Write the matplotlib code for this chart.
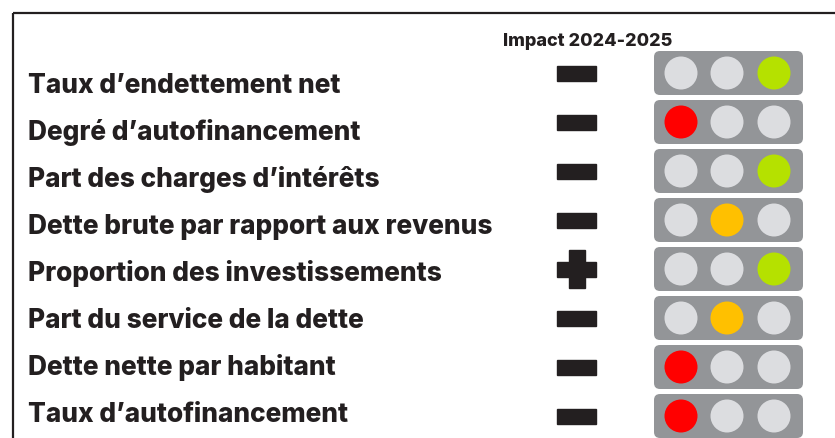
import matplotlib.pyplot as plt
from matplotlib.patches import FancyBboxPatch, Circle, Rectangle

plt.rcParams['font.family'] = ['Inter', 'DejaVu Sans']

# --- data ---
indicators = [
    "Taux d’endettement net",
    "Degré d’autofinancement",
    "Part des charges d’intérêts",
    "Dette brute par rapport aux revenus",
    "Proportion des investissements",
    "Part du service de la dette",
    "Dette nette par habitant",
    "Taux d’autofinancement",
]
impact = ["-", "-", "-", "-", "+", "-", "-", "-"]
# which light is on: 0 = red (left), 1 = yellow (middle), 2 = green (right)
status = [2, 0, 2, 1, 2, 1, 0, 0]
header = "Impact 2024-2025"

dark = "#231f20"
box_grey = "#939598"
off_grey = "#dcdde0"
on_colors = {0: "#ff0000", 1: "#ffc000", 2: "#b5e100"}

W, H = 835, 438
fig = plt.figure(figsize=(W / 100, H / 100), dpi=100)
ax = fig.add_axes([0, 0, 1, 1])
ax.set_xlim(0, W)
ax.set_ylim(H, 0)
ax.set_aspect("equal")
ax.axis("off")

# frame (top and left)
ax.plot([12.5, W], [12.5, 12.5], color=dark, lw=1.6, solid_capstyle="butt")
ax.plot([12.5, 12.5], [12.5, H], color=dark, lw=1.6, solid_capstyle="butt")

ax.text(588, 46, header, ha="center", va="baseline", fontsize=13,
        fontweight="heavy", color=dark)

# labels are laid out a bit tighter than the lights
for i, name in enumerate(indicators):
    ax.text(28, 93 + i * 47, name, ha="left", va="baseline", fontsize=18.9,
            fontweight="heavy", color=dark)

y0, step = 73, 49
for i, (sign, st) in enumerate(zip(impact, status)):
    yc = y0 + i * step

    # impact sign
    ax.add_patch(Rectangle((557, yc - 7.5), 39, 15, color=dark))
    if sign == "+":
        ax.add_patch(Rectangle((568.5, yc - 19), 16, 38, color=dark))

    # traffic light
    ax.add_patch(FancyBboxPatch((654 + 6, yc - 22 + 6), 149 - 12, 44 - 12,
                                boxstyle="round,pad=6", color=box_grey, lw=0))
    for k, cx in enumerate([681, 727, 774]):
        c = on_colors[st] if k == st else off_grey
        ax.add_patch(Circle((cx, yc), 16.5, color=c, lw=0))

fig.savefig("out.png", dpi=100)
